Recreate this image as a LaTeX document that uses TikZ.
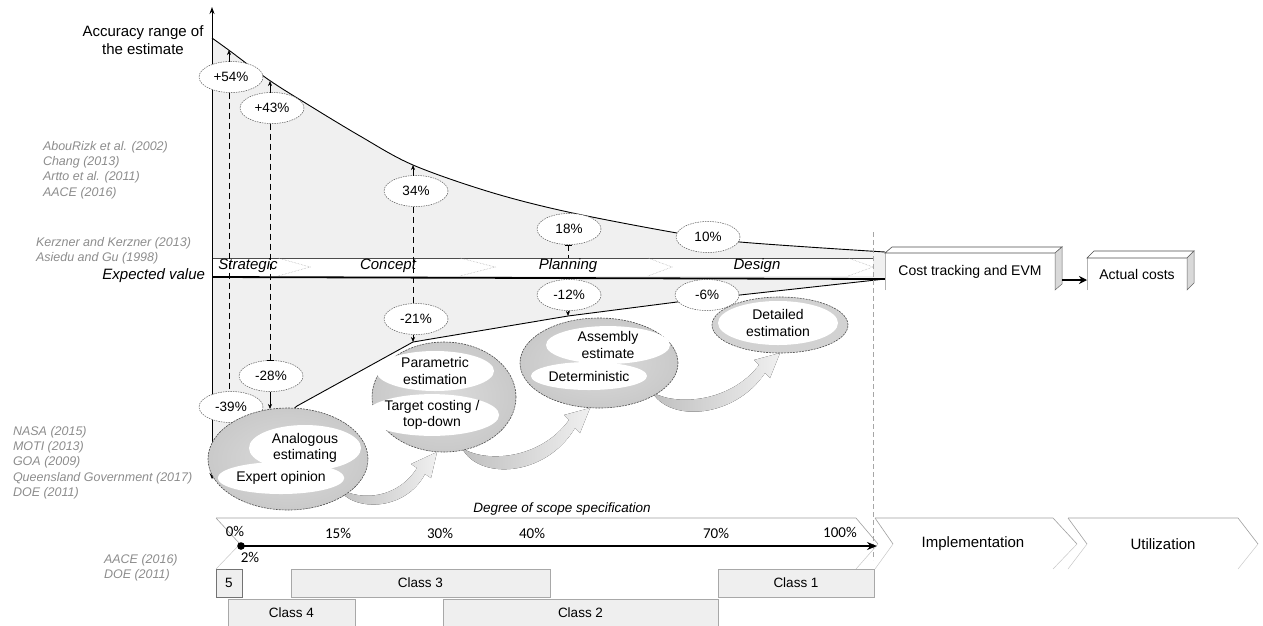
\documentclass[tikz,border=0pt]{standalone}
\usepackage{fontspec}
\setmainfont{Liberation Sans}
\newfontfamily\tickfont{Carlito}
\usetikzlibrary{shapes.geometric,arrows.meta}
\definecolor{funnelgray}{HTML}{F0F0F0}
\definecolor{refgray}{HTML}{8C8C8C}
\definecolor{boxgray}{HTML}{EFEFEF}
\definecolor{edgegray}{HTML}{A8A8A8}
\begin{document}
\begin{tikzpicture}[x=1pt,y=-1pt,
  every node/.style={inner sep=0pt, outer sep=0pt},
  lbl/.style={font=\fontsize{15}{18}\selectfont, align=center},
  ref/.style={font=\fontsize{12.5}{15}\selectfont\itshape, text=refgray, anchor=west},
  pct/.style={ellipse, draw=black!65, dash pattern=on 1.5pt off 1pt, line width=0.5pt, fill=white,
              minimum width=64pt, minimum height=31pt, font=\fontsize{13.5}{14}\selectfont},
  phase/.style={font=\fontsize{15}{16}\selectfont\itshape},
  tip/.style={-{Stealth[length=5pt,width=4pt]}, line width=0.6pt},
  vdash/.style={line width=0.6pt, dash pattern=on 6pt off 4pt},
  method/.style={ellipse, draw=black!70, dash pattern=on 2pt off 1pt, line width=0.6pt,
                 inner color=gray!28, outer color=gray!42},
  blob/.style={ellipse, fill=white, font=\fontsize{14}{16.5}\selectfont, align=center},
  swoosh/.style={left color=gray!50, right color=gray!12},
  chev/.style={draw=gray!70, densely dotted, line width=0.5pt},
  band/.style={draw=gray!75, line width=0.6pt},
  bandlow/.style={draw=gray!45, line width=0.5pt},
  cls/.style={draw=edgegray, fill=boxgray, line width=0.6pt, anchor=north west,
              minimum height=28pt, font=\fontsize{13.5}{14}\selectfont},
  box/.style={font=\fontsize{14}{16}\selectfont, anchor=north west},
  pcttick/.style={font=\fontsize{15}{16}\selectfont\tickfont},
]
\useasboundingbox (0,0) rectangle (1263,625);

% ---------- funnel of the accuracy range ----------
\fill[funnelgray]
  plot[smooth, tension=0.55] coordinates {(212,38) (230,51) (269,80) (307,104) (360,136) (413,165) (490,192) (568,212) (677,233) (740,242) (885,252)}
  -- (885,279) -- (740,295) -- (677,302) -- (568,316) -- (413,342) -- (297,406) -- (212,478) -- cycle;
\draw[line width=0.9pt] plot[smooth, tension=0.55] coordinates {(212,38) (230,51) (269,80) (307,104) (360,136) (413,165) (490,192) (568,212) (677,233) (740,242) (885,252)};
\draw[line width=0.9pt] (885,279) -- (740,295) -- (677,302) -- (568,316) -- (413,342) -- (297,406) -- (212,478);

% ---------- phase band ----------
\fill[white] (212,258) rectangle (873,276);
\draw[line width=0.6pt, black!70] (212,258) -- (873,258);
\foreach \a/\b in {278/310, 460/495, 648/672, 848/873}
  \draw[chev] (\a,258) -- (\b,267) -- (\a,276);
\node[phase] (ph1) at (248,266) {Strategic};
\node[phase] (ph2) at (388,266) {Concept};
\node[phase] (ph3) at (568,266) {Planning};
\node[phase] (ph4) at (757,266) {Design};

% expected value line
\coordinate (ev0) at (212,277);
\coordinate (ev1) at (885,279);
\draw[line width=1.8pt] (ev0) -- (ev1);

% vertical axis
\coordinate (ax0) at (212,479);
\coordinate (ax1) at (212,7);
\draw[line width=0.9pt, {Stealth[length=6pt,width=5pt]}-{Stealth[length=7pt,width=5pt]}] (ax0) -- (ax1);

% ---------- accuracy labels ----------
\node[pct] (p54) at (231,77) {+54\%};
\node[pct] (p43) at (272,108) {+43\%};
\node[pct] (p34) at (416,191) {34\%};
\node[pct] (p18) at (569,229) {18\%};
\node[pct] (p10) at (708,237) {10\%};
\node[pct] (m12) at (569,295) {-12\%};
\node[pct] (m6)  at (707,295) {-6\%};
\node[pct] (m21) at (416,319) {-21\%};
\node[pct] (m28) at (271,376) {-28\%};
\node[pct] (m39) at (231,407) {-39\%};

\coordinate (c54) at (229,50);
\coordinate (c43) at (270,81);
\coordinate (c34) at (413,165);
\coordinate (c18) at (568,258);
\coordinate (c12) at (568,316);
\coordinate (c21) at (413,342);
\coordinate (c28) at (270,409);

\draw[tip] (c54 |- p54.north) -- (c54);
\draw[vdash] (c54 |- p54.south) -- (c54 |- m39.north);
\draw[tip] (c43 |- p43.north) -- (c43);
\draw[vdash, -{Bar[width=7pt]}] (c43 |- p43.south) -- (c43 |- m28.north);
\draw[tip] (c43 |- m28.south) -- (c28);
\draw[tip] (c34 |- p34.north) -- (c34);
\draw[vdash] (c34 |- p34.south) -- (c34 |- m21.north);
\draw[tip] (c34 |- m21.south) -- (c21);
\draw[vdash, {Bar[width=7pt]}-] (c18 |- p18.south) -- (c18);
\draw[tip] (c12 |- m12.south) -- (c12);

% boundary between planning and execution
\coordinate (vb0) at (873,232);
\coordinate (vb1) at (873,560);
\draw[gray!70, dash pattern=on 5pt off 3pt, line width=0.6pt] (vb0) -- (vb1);

% ---------- transitions between estimating methods ----------
\fill[swoosh] (338,488) .. controls (352,512) and (405,512) .. (425,474) -- (431,478) -- (437,452)
  -- (411,464) -- (417,468) .. controls (398,498) and (362,502) .. (338,488) -- cycle;
\fill[swoosh] (462,448) .. controls (478,480) and (545,478) .. (575,428) -- (580,433) -- (590,408)
  -- (564,415) -- (569,420) .. controls (540,460) and (485,463) .. (462,448) -- cycle;
\fill[swoosh] (652,392) .. controls (670,423) and (735,418) .. (765,373) -- (770,378) -- (780,353)
  -- (754,360) -- (759,365) .. controls (730,403) and (675,406) .. (652,392) -- cycle;

% ---------- estimating methods ----------
\node[method, minimum width=160pt, minimum height=102pt] (me1) at (288,459) {};
\node[blob, minimum width=112pt, minimum height=46pt] (ana) at (305,448) {Analogous\\estimating};
\node[blob, minimum width=126pt, minimum height=32pt] (exp) at (281,478) {Expert opinion};

\node[method, minimum width=144pt, minimum height=110pt] (me2) at (444,397) {};
\node[blob, minimum width=118pt, minimum height=40pt] (par) at (435,371) {Parametric\\estimation};
\node[blob, minimum width=116pt, minimum height=40pt] (tgt) at (432,415) {Target costing /\\top-down};

\node[method, minimum width=158pt, minimum height=90pt] (me3) at (599,363) {};
\node[blob, minimum width=124pt, minimum height=34pt] (asm) at (608,345) {Assembly\\estimate};
\node[blob, minimum width=116pt, minimum height=28pt] (det) at (589,376) {Deterministic};

\node[ellipse, draw=black!70, dash pattern=on 2pt off 1pt, line width=0.6pt, fill=gray!35,
      minimum width=136pt, minimum height=56pt] (me4) at (780,325) {};
\node[blob, minimum width=120pt, minimum height=44pt] (dtl) at (778,323) {Detailed\\estimation};

% ---------- cost control boxes ----------
\node[box, minimum width=170pt, minimum height=37pt] (cost) at (885,253) {Cost tracking and EVM};
\draw[gray!60, line width=0.5pt] (cost.south west) -- (cost.north west);
\draw[black!70, line width=0.6pt] (885,253) -- (892,247) -- (1062,247) -- (1055,253) -- cycle;
\filldraw[fill=gray!30, draw=black!60, line width=0.5pt] (1055,253) -- (1062,247) -- (1062,284) -- (1055,290) -- cycle;

\node[box, minimum width=100pt, minimum height=32pt] (act) at (1087,258) {Actual costs};
\draw[gray!60, line width=0.5pt] (act.south west) -- (act.north west);
\draw[black!70, line width=0.6pt] (1087,258) -- (1094,251) -- (1194,251) -- (1187,258) -- cycle;
\filldraw[fill=gray!30, draw=black!60, line width=0.5pt] (1187,258) -- (1194,251) -- (1194,283) -- (1187,290) -- cycle;

\draw[line width=1.6pt, -{Stealth[length=8pt,width=8pt]}] ([xshift=7pt,yshift=-8.5pt]cost.east) -- ([yshift=-6pt]act.west);

% ---------- scope definition ----------
\node[font=\fontsize{13.5}{14}\selectfont\itshape] (deg) at (562,509) {Degree of scope specification};

\draw[band] (216,518) -- (856,518) -- (878,544);
\draw[bandlow] (878,544) -- (856,569);
\draw[band] (216,518) -- (240,544);
\draw[bandlow] (240,544) -- (216,569);

\draw[band] (875,518) -- (1053,518) -- (1077,544);
\draw[bandlow] (1077,544) -- (1053,569);
\draw[band] (875,518) -- (893,544);
\draw[bandlow] (893,544) -- (875,569);
\node[font=\fontsize{15}{16}\selectfont] (impl) at (973,544) {Implementation};

\draw[band] (1068,518) -- (1238,518) -- (1258,544);
\draw[bandlow] (1258,544) -- (1238,569);
\draw[band] (1068,518) -- (1087,544);
\draw[bandlow] (1087,544) -- (1068,569);
\node[font=\fontsize{15}{16}\selectfont] (util) at (1163,544) {Utilization};

\coordinate (s0) at (241,546);
\coordinate (s1) at (877,546);
\fill (s0) circle (3.8);
\draw[line width=1.4pt, -{Stealth[length=10pt,width=8pt]}] (s0) -- (s1);

\node[pcttick] (t0)   at (235,531) {0\%};
\node[pcttick] (t2)   at (250,557) {2\%};
\node[pcttick] (t15)  at (338,533) {15\%};
\node[pcttick] (t30)  at (440,533) {30\%};
\node[pcttick] (t40)  at (532,533) {40\%};
\node[pcttick] (t70)  at (716,533) {70\%};
\node[pcttick] (t100) at (840,532) {100\%};

% estimate classes
\node[cls, draw=black!55, minimum width=26pt] (k5) at (216,569) {5};
\node[cls, minimum width=259pt] (k3) at (291,569) {Class 3};
\node[cls, minimum width=156pt] (k1) at (718,569) {Class 1};
\node[cls, minimum width=127pt] (k4) at (228,599) {Class 4};
\node[cls, minimum width=275pt] (k2) at (443,599) {Class 2};

% ---------- axis labels and sources ----------
\node[lbl] (acc) at (143,40) {Accuracy range of\\the estimate};
\node[font=\fontsize{15}{16}\selectfont\itshape, anchor=east] (expv) at (205,276) {Expected value};

\node[ref] (r1) at (43,147) {AbouRizk et al. (2002)};
\node[ref] (r2) at (43,162) {Chang (2013)};
\node[ref] (r3) at (43,177) {Artto et al. (2011)};
\node[ref] (r4) at (43,193) {AACE (2016)};
\node[ref] (r5) at (36,243) {Kerzner and Kerzner (2013)};
\node[ref] (r6) at (36,258) {Asiedu and Gu (1998)};
\node[ref] (r7) at (13,432) {NASA (2015)};
\node[ref] (r8) at (13,447) {MOTI (2013)};
\node[ref] (r9) at (13,462) {GOA (2009)};
\node[ref] (r10) at (13,478) {Queensland Government (2017)};
\node[ref] (r11) at (13,493) {DOE (2011)};
\node[ref] (r12) at (104,560) {AACE (2016)};
\node[ref] (r13) at (104,575) {DOE (2011)};
\end{tikzpicture}
\end{document}
